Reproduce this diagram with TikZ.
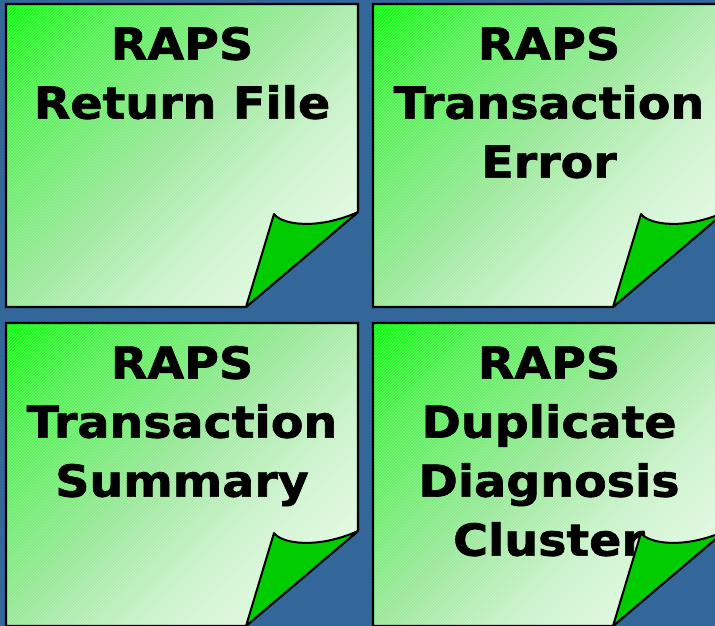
\documentclass[tikz,border=0pt]{standalone}
\usepackage{fontspec}
\setmainfont{DejaVu Sans}[FakeStretch=1.08, BoldFeatures={FakeBold=1.5}]
\usetikzlibrary{patterns}
\definecolor{bg}{HTML}{336699}
\definecolor{curlgreen}{HTML}{00CC00}
\definecolor{gA}{HTML}{00FF00}
\definecolor{gB}{HTML}{4CF04C}
\definecolor{gC}{HTML}{98E898}
\definecolor{gD}{HTML}{C8F2C8}
\definecolor{gE}{HTML}{F6FFF6}
% diagonal fade of a sheet, from bright green to almost white
\pgfdeclarehorizontalshading{notegrad}{470bp}{color(0bp)=(gA); color(85bp)=(gB); color(220bp)=(gC); color(311bp)=(gD); color(470bp)=(gE)}
\tikzset{
  sheetedge/.style={draw=black, line width=2.2pt, line join=miter},
  curlflap/.style={fill=curlgreen, draw=black, line width=2pt, line join=round},
  sheettext/.style={anchor=north, inner sep=0pt, outer sep=0pt, align=center,
    text=black, font=\bfseries\fontsize{44}{59}\selectfont},
}
% #1,#2: offset of the sheet; #3: node name; #4: label
\newcommand\curlsheet[4]{%
  \begin{scope}[shift={(#1,#2)}]
    \begin{scope}
      \clip (6,4) -- (358,4) -- (358,212) -- (246,307) -- (6,307) -- cycle;
      \node[inner sep=0pt, outer sep=0pt, rotate=-45] at (182,155.5) {\pgfuseshading{notegrad}};
      \fill[pattern=north east lines, pattern color=white, opacity=.3] (0,0) rectangle (360,310);
    \end{scope}
    \draw[sheetedge] (6,4) -- (358,4) -- (358,212) -- (246,307) -- (6,307) -- cycle;
    \node[sheettext] (#3) at (182,27) {#4};
    \draw[curlflap] (246,307) -- (274,214) .. controls (282,225) and (318,230) .. (358,212) -- cycle;
  \end{scope}}
\begin{document}
\begin{tikzpicture}[x=1pt, y=-1pt]
  \useasboundingbox (0,0) rectangle (715,626);
  \clip (0,0) rectangle (715,626);
  \fill[bg] (0,0) rectangle (715,626);
  \curlsheet{0}{0}{ret}{RAPS\\Return File}
  \curlsheet{367}{0}{err}{RAPS\\Transaction\\Error}
  \curlsheet{0}{319}{sum}{RAPS\\Transaction\\Summary}
  \curlsheet{367}{319}{dup}{RAPS\\Duplicate\\Diagnosis\\Cluster}
\end{tikzpicture}
\end{document}
